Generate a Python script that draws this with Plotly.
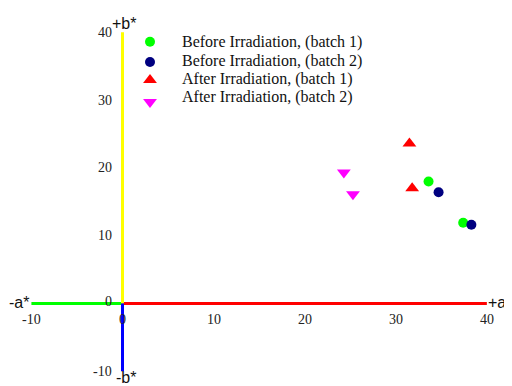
import plotly.graph_objects as go

# ---- data ----
series_names = ["Before Irradiation, (batch 1)", "Before Irradiation, (batch 2)",
                "After Irradiation, (batch 1)", "After Irradiation, (batch 2)"]
series_colors = ["#00FF00", "#000080", "#FF0000", "#FF00FF"]
series_symbols = ["circle", "circle", "triangle-up", "triangle-down"]
before_b1_a = [33.6, 37.4]
before_b1_b = [18.0, 11.9]
before_b2_a = [34.7, 38.3]
before_b2_b = [16.4, 11.6]
after_b1_a = [31.5, 31.8]
after_b1_b = [23.6, 17.0]
after_b2_a = [24.3, 25.3]
after_b2_b = [19.3, 16.1]

x_ticks = [-10, 0, 10, 20, 30, 40]
y_ticks = [-10, 0, 10, 20, 30, 40]
x_tick_labels = ["-10", "0", "10", "20", "30", "40"]
y_tick_labels = ["-10", "0", "10", "20", "30", "40"]

W, H = 504, 378  # page body has an 8px margin

fig = go.Figure()

# colored axis lines
axis_w = 3
fig.add_trace(go.Scatter(x=[-10, 0], y=[0, 0], mode="lines",
                         line=dict(color="#00FF00", width=axis_w), showlegend=False, hoverinfo="skip"))
fig.add_trace(go.Scatter(x=[0, 40], y=[0, 0], mode="lines",
                         line=dict(color="#FF0000", width=axis_w), showlegend=False, hoverinfo="skip"))
fig.add_trace(go.Scatter(x=[0, 0], y=[0, 40], mode="lines",
                         line=dict(color="#FFFF00", width=axis_w), showlegend=False, hoverinfo="skip"))
fig.add_trace(go.Scatter(x=[0, 0], y=[-10, 0], mode="lines",
                         line=dict(color="#0000FF", width=axis_w), showlegend=False, hoverinfo="skip"))

series_data = [(before_b1_a, before_b1_b), (before_b2_a, before_b2_b),
               (after_b1_a, after_b1_b), (after_b2_a, after_b2_b)]
sizes = [10, 10, 12, 12]
for (xs, ys), name, col, sym, sz in zip(series_data, series_names, series_colors, series_symbols, sizes):
    fig.add_trace(go.Scatter(x=xs, y=ys, mode="markers", name=name, showlegend=False,
                             marker=dict(symbol=sym, color=col, size=sz)))

# manual legend (keys on a pixel-space overlay axis)
leg_key_x = 150 - 8
leg_key_y = [41.7 - 8, 62 - 8, 80 - 8, 102 - 8]
leg_text_y = [42.3 - 8, 60.7 - 8, 79.3 - 8, 97.3 - 8]
leg_text_x = 180 - 8
for i, (name, col, sym, sz) in enumerate(zip(series_names, series_colors, series_symbols, sizes)):
    fig.add_trace(go.Scatter(x=[leg_key_x], y=[leg_key_y[i]], mode="markers", xaxis="x2", yaxis="y2",
                             showlegend=False, hoverinfo="skip",
                             marker=dict(symbol=sym, color=col, size=sz)))

serif = dict(family="Liberation Serif, Times New Roman, serif", size=14, color="#222222")
sans = dict(family="Liberation Sans, Arial, sans-serif", size=16, color="#111111")

ann = []
for v, t in zip(x_ticks, x_tick_labels):
    ann.append(dict(x=v, y=0, text=t, showarrow=False, xanchor="center", yanchor="middle",
                    yshift=-16, font=serif))
for v, t in zip(y_ticks, y_tick_labels):
    ann.append(dict(x=0, y=v, text=t, showarrow=False, xanchor="right", yanchor="middle",
                    xshift=-9, yshift=(2 if v == 0 else 0), font=serif))

ann.append(dict(x=-10, y=0, text="-a*", showarrow=False, xanchor="right", yanchor="middle",
                xshift=0, yshift=1, font=sans))
ann.append(dict(x=40, y=0, text="+a*", showarrow=False, xanchor="left", yanchor="middle",
                xshift=-1, yshift=1, font=sans))
ann.append(dict(x=0, y=40, text="+b*", showarrow=False, xanchor="center", yanchor="bottom",
                xshift=1, yshift=-2, font=sans))
ann.append(dict(x=0, y=-10, text="-b*", showarrow=False, xanchor="center", yanchor="top",
                xshift=3, yshift=4, font=sans))

for name, ty in zip(series_names, leg_text_y):
    ann.append(dict(x=leg_text_x, y=ty, xref="x2", yref="y2", text=name, showarrow=False,
                    xanchor="left", yanchor="middle",
                    font=dict(family="Liberation Serif, Times New Roman, serif", size=16, color="#111111")))

fig.update_layout(
    width=W, height=H,
    margin=dict(l=0, r=0, t=0, b=0),
    paper_bgcolor="white", plot_bgcolor="white",
    xaxis=dict(range=[-12.57, 42.76], visible=False, fixedrange=True),
    yaxis=dict(range=[-12.17, 43.58], visible=False, fixedrange=True),
    xaxis2=dict(range=[0, W], visible=False, fixedrange=True, overlaying="x"),
    yaxis2=dict(range=[H, 0], visible=False, fixedrange=True, overlaying="y"),
    annotations=ann,
    showlegend=False,
)

fig.write_html("out.html")
